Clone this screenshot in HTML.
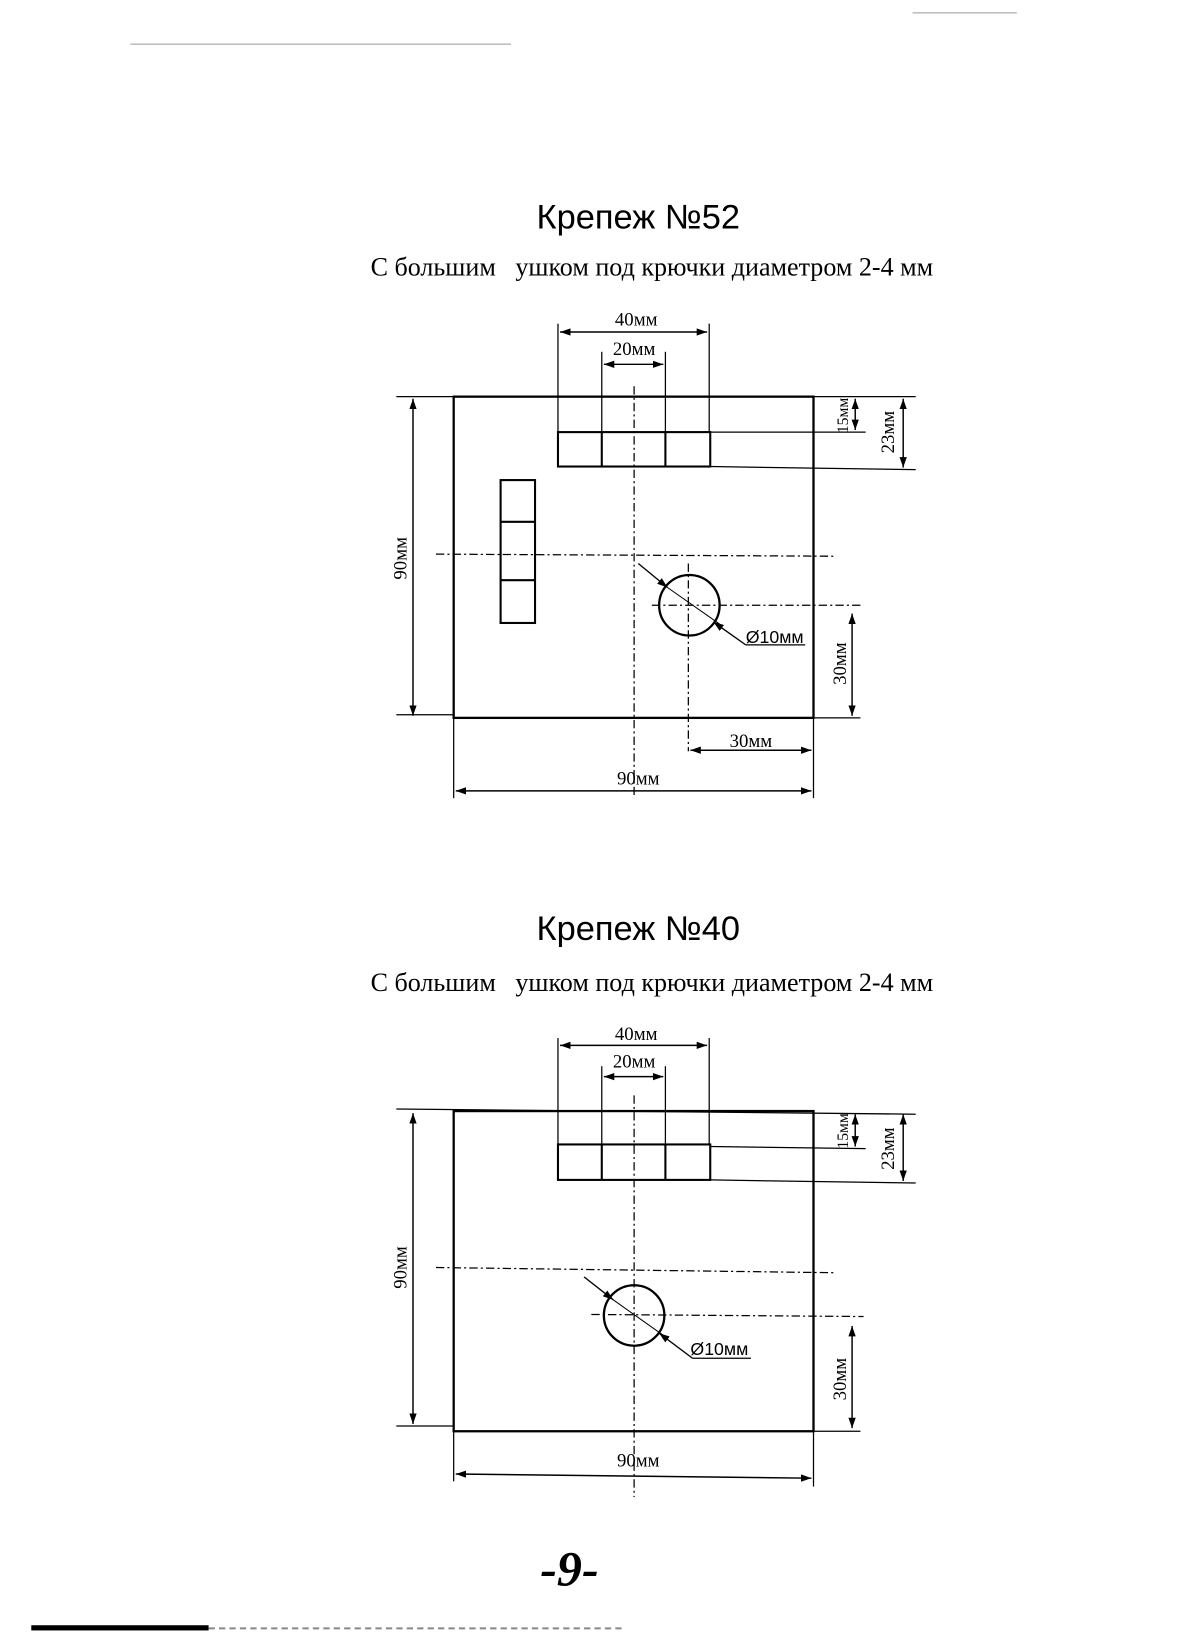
<!DOCTYPE html>
<html><head><meta charset="utf-8"><style>
html,body{margin:0;padding:0;background:#fff;}
svg{display:block;}
</style></head><body>
<svg width="1190" height="1636" viewBox="0 0 1141 1568" xmlns="http://www.w3.org/2000/svg">
<defs>
<marker id="a" viewBox="0 0 10 10" refX="10" refY="5" markerWidth="10" markerHeight="10" orient="auto-start-reverse" markerUnits="userSpaceOnUse"><path d="M0,1.5 L10,5 L0,8.5z" fill="#000"/></marker>
</defs>
<rect width="1141" height="1568" fill="#fff"/>
<line x1="125" y1="42" x2="490" y2="42" stroke="#999" stroke-width="1"/>
<line x1="875" y1="12" x2="975" y2="12" stroke="#999" stroke-width="1"/>

<text x="612" y="219" font-family="Liberation Sans,sans-serif" font-size="33" text-anchor="middle">Крепеж №52</text>
<text x="625" y="264" font-family="Liberation Serif,serif" font-size="25" text-anchor="middle">С большим&#160;&#160; ушком под крючки диаметром 2-4 мм</text>
<g stroke="#000" fill="none">
<rect x="435" y="380" width="345" height="308" stroke-width="2.2"/>
<line x1="380" y1="380" x2="878" y2="380" stroke-width="1.2"/>
<line x1="380" y1="685" x2="435" y2="685" stroke-width="1.2"/>
<line x1="780" y1="688" x2="825" y2="688" stroke-width="1.2"/>
<rect x="535" y="414" width="146" height="33" stroke-width="2"/>
<line x1="577" y1="414" x2="577" y2="447" stroke-width="2"/>
<line x1="638" y1="414" x2="638" y2="447" stroke-width="2"/>
<line x1="681" y1="414" x2="830" y2="414" stroke-width="1.2"/>
<line x1="681" y1="447" x2="878" y2="450" stroke-width="1.2"/>
<line x1="535" y1="310" x2="535" y2="414" stroke-width="1.2"/>
<line x1="680" y1="310" x2="680" y2="414" stroke-width="1.2"/>
<line x1="577" y1="337" x2="577" y2="414" stroke-width="1.2"/>
<line x1="638" y1="337" x2="638" y2="414" stroke-width="1.2"/>
<line x1="537" y1="318" x2="678" y2="318" stroke-width="1.4" marker-start="url(#a)" marker-end="url(#a)"/>
<line x1="579" y1="349" x2="636" y2="349" stroke-width="1.4" marker-start="url(#a)" marker-end="url(#a)"/>
<rect x="480" y="460" width="33" height="137" stroke-width="2"/>
<line x1="480" y1="500" x2="513" y2="500" stroke-width="2"/>
<line x1="480" y1="556" x2="513" y2="556" stroke-width="2"/>
<g stroke-dasharray="8,3,2,3" stroke-width="1.2">
<line x1="608" y1="370" x2="608" y2="765"/>
<line x1="418" y1="531" x2="800" y2="533"/>
<line x1="625" y1="580" x2="828" y2="580"/>
<line x1="660" y1="540" x2="660" y2="720"/>
</g>
<circle cx="661" cy="580" r="29" stroke-width="2.2"/>
<line x1="612" y1="540" x2="640" y2="563" stroke-width="1.3" marker-end="url(#a)"/>
<line x1="640" y1="563" x2="690" y2="598" stroke-width="1"/>
<line x1="715" y1="618" x2="684" y2="596" stroke-width="1.3" marker-end="url(#a)"/>
<line x1="715" y1="618" x2="772" y2="618" stroke-width="1.2"/>
<line x1="396" y1="382" x2="396" y2="686" stroke-width="1.4" marker-start="url(#a)" marker-end="url(#a)"/>
<line x1="820" y1="382" x2="820" y2="412" stroke-width="1.4" marker-start="url(#a)" marker-end="url(#a)"/>
<line x1="866" y1="382" x2="866" y2="448" stroke-width="1.4" marker-start="url(#a)" marker-end="url(#a)"/>
<line x1="817" y1="588" x2="817" y2="686" stroke-width="1.4" marker-start="url(#a)" marker-end="url(#a)"/>
<line x1="662" y1="719" x2="778" y2="719" stroke-width="1.4" marker-start="url(#a)" marker-end="url(#a)"/>
<line x1="435" y1="688" x2="435" y2="765" stroke-width="1.2"/>
<line x1="780" y1="688" x2="780" y2="765" stroke-width="1.2"/>
<line x1="437" y1="758" x2="778" y2="758" stroke-width="1.4" marker-start="url(#a)" marker-end="url(#a)"/>
</g>
<g font-family="Liberation Serif,serif" font-size="18" fill="#000">
<text x="610" y="312" text-anchor="middle">40мм</text>
<text x="608" y="340" text-anchor="middle">20мм</text>
<text x="715" y="616" font-family="Liberation Sans,sans-serif" font-size="17">Ø10мм</text>
<text x="720" y="716" text-anchor="middle">30мм</text>
<text x="612" y="752" text-anchor="middle">90мм</text>
<text transform="translate(390,535) rotate(-90)" text-anchor="middle">90мм</text>
<text transform="translate(813,398) rotate(-90)" text-anchor="middle" font-size="15">15мм</text>
<text transform="translate(857,414) rotate(-90)" text-anchor="middle">23мм</text>
<text transform="translate(811,636) rotate(-90)" text-anchor="middle">30мм</text>
</g>

<text x="612" y="901" font-family="Liberation Sans,sans-serif" font-size="33" text-anchor="middle">Крепеж №40</text>
<text x="625" y="950" font-family="Liberation Serif,serif" font-size="25" text-anchor="middle">С большим&#160;&#160; ушком под крючки диаметром 2-4 мм</text>
<g stroke="#000" fill="none">
<rect x="435" y="1065" width="345" height="307" stroke-width="2.2"/>
<line x1="380" y1="1063" x2="878" y2="1068" stroke-width="1.2"/>
<line x1="380" y1="1367" x2="435" y2="1367" stroke-width="1.2"/>
<line x1="780" y1="1372" x2="825" y2="1372" stroke-width="1.2"/>
<rect x="535" y="1097" width="146" height="34" stroke-width="2"/>
<line x1="577" y1="1097" x2="577" y2="1131" stroke-width="2"/>
<line x1="638" y1="1097" x2="638" y2="1131" stroke-width="2"/>
<line x1="681" y1="1099" x2="830" y2="1101" stroke-width="1.2"/>
<line x1="681" y1="1131" x2="878" y2="1134" stroke-width="1.2"/>
<line x1="535" y1="995" x2="535" y2="1097" stroke-width="1.2"/>
<line x1="680" y1="995" x2="680" y2="1097" stroke-width="1.2"/>
<line x1="577" y1="1022" x2="577" y2="1097" stroke-width="1.2"/>
<line x1="638" y1="1022" x2="638" y2="1097" stroke-width="1.2"/>
<line x1="537" y1="1002" x2="678" y2="1002" stroke-width="1.4" marker-start="url(#a)" marker-end="url(#a)"/>
<line x1="579" y1="1032" x2="636" y2="1032" stroke-width="1.4" marker-start="url(#a)" marker-end="url(#a)"/>
<g stroke-dasharray="8,3,2,3" stroke-width="1.2">
<line x1="608" y1="1050" x2="608" y2="1435"/>
<line x1="418" y1="1215" x2="800" y2="1220"/>
<line x1="567" y1="1260" x2="828" y2="1262"/>
</g>
<circle cx="608" cy="1261" r="29" stroke-width="2.2"/>
<line x1="560" y1="1224" x2="588" y2="1246" stroke-width="1.3" marker-end="url(#a)"/>
<line x1="588" y1="1246" x2="636" y2="1280" stroke-width="1"/>
<line x1="664" y1="1302" x2="632" y2="1278" stroke-width="1.3" marker-end="url(#a)"/>
<line x1="664" y1="1302" x2="720" y2="1302" stroke-width="1.2"/>
<line x1="396" y1="1067" x2="396" y2="1365" stroke-width="1.4" marker-start="url(#a)" marker-end="url(#a)"/>
<line x1="820" y1="1068" x2="820" y2="1099" stroke-width="1.4" marker-start="url(#a)" marker-end="url(#a)"/>
<line x1="866" y1="1068" x2="866" y2="1132" stroke-width="1.4" marker-start="url(#a)" marker-end="url(#a)"/>
<line x1="817" y1="1271" x2="817" y2="1369" stroke-width="1.4" marker-start="url(#a)" marker-end="url(#a)"/>
<line x1="435" y1="1372" x2="435" y2="1420" stroke-width="1.2"/>
<line x1="780" y1="1372" x2="780" y2="1425" stroke-width="1.2"/>
<line x1="437" y1="1413" x2="778" y2="1417" stroke-width="1.4" marker-start="url(#a)" marker-end="url(#a)"/>
</g>
<g font-family="Liberation Serif,serif" font-size="18" fill="#000">
<text x="610" y="997" text-anchor="middle">40мм</text>
<text x="608" y="1023" text-anchor="middle">20мм</text>
<text x="662" y="1299" font-family="Liberation Sans,sans-serif" font-size="17">Ø10мм</text>
<text x="612" y="1406" text-anchor="middle">90мм</text>
<text transform="translate(390,1215) rotate(-90)" text-anchor="middle">90мм</text>
<text transform="translate(813,1084) rotate(-90)" text-anchor="middle" font-size="15">15мм</text>
<text transform="translate(857,1101) rotate(-90)" text-anchor="middle">23мм</text>
<text transform="translate(811,1322) rotate(-90)" text-anchor="middle">30мм</text>
</g>

<text x="546" y="1520" font-family="Liberation Serif,serif" font-size="48" font-weight="bold" font-style="italic" text-anchor="middle">-9-</text>
<rect x="30" y="1558" width="170" height="5" fill="#000"/>
<line x1="200" y1="1561" x2="600" y2="1561" stroke="#888" stroke-width="2" stroke-dasharray="6,4"/>
</svg>
</body></html>
